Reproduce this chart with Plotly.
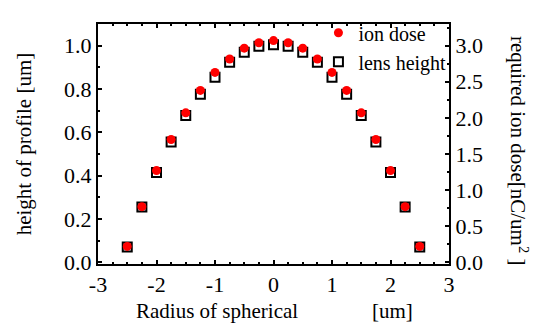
import plotly.graph_objects as go

radius = [-2.5, -2.25, -2.0, -1.75, -1.5, -1.25, -1.0, -0.75, -0.5, -0.25, 0.0,
          0.25, 0.5, 0.75, 1.0, 1.25, 1.5, 1.75, 2.0, 2.25, 2.5]
lens_height = [0.07, 0.255, 0.415, 0.555, 0.677, 0.776, 0.854, 0.923, 0.970, 0.997, 1.004,
               0.997, 0.970, 0.923, 0.854, 0.776, 0.677, 0.555, 0.415, 0.255, 0.07]
ion_dose = [0.22, 0.77, 1.27, 1.70, 2.07, 2.38, 2.63, 2.815, 2.965, 3.04, 3.07,
            3.04, 2.965, 2.815, 2.63, 2.38, 2.07, 1.70, 1.27, 0.77, 0.22]

x_ticks = [-3, -2, -1, 0, 1, 2, 3]
x_ticktext = ["-3", "-2", "-1", "0", "1", "2", "3"]
y_ticks = [0, 0.2, 0.4, 0.6, 0.8, 1.0]
y_ticktext = ["0.0", "0.2", "0.4", "0.6", "0.8", "1.0"]
y2_ticks = [0, 0.5, 1.0, 1.5, 2.0, 2.5, 3.0]
y2_ticktext = ["0.0", "0.5", "1.0", "1.5", "2.0", "2.5", "3.0"]

FONT = "Liberation Serif"
TICK_SIZE = 22
TITLE_SIZE = 21

fig = go.Figure()
fig.add_trace(go.Scatter(
    x=radius, y=lens_height, mode="markers", name="lens height",
    marker=dict(symbol="square", size=9, color="white", line=dict(color="black", width=2)),
    yaxis="y", legendrank=2))
fig.add_trace(go.Scatter(
    x=radius, y=ion_dose, mode="markers", name="ion dose",
    marker=dict(symbol="circle", size=9, color="#ff0000", line=dict(width=0)),
    yaxis="y2", legendrank=1))

line_style = dict(showline=True, linecolor="black", linewidth=2, ticks="inside",
                  tickcolor="black", tickwidth=1.5, ticklen=4, showgrid=False,
                  zeroline=False)

fig.update_layout(
    width=538, height=326,
    margin=dict(l=90, r=97, t=5, b=70),
    paper_bgcolor="white", plot_bgcolor="white",
    font=dict(family=FONT, color="black", size=18),
    xaxis=dict(range=[-3, 3], tickvals=x_ticks, ticktext=x_ticktext, mirror="ticks",
               minor=dict(dtick=0.25, ticks="inside", ticklen=2, tickcolor="black"),
               **line_style),
    yaxis=dict(range=[-0.008, 1.1], tickvals=y_ticks, ticktext=y_ticktext,
               minor=dict(dtick=0.1, ticks="inside", ticklen=2, tickcolor="black"),
               **line_style),
    yaxis2=dict(range=[-0.024, 3.3], overlaying="y", side="right",
                tickvals=y2_ticks, ticktext=y2_ticktext,
                minor=dict(dtick=0.25, ticks="inside", ticklen=2, tickcolor="black"),
                **line_style),
    legend=dict(x=0.628, y=1.045, xanchor="left", yanchor="top",
                bgcolor="rgba(0,0,0,0)", font=dict(family=FONT, size=20, color="black"),
                itemwidth=30, tracegroupgap=0),
    showlegend=True,
)
fig.update_xaxes(tickfont_family=FONT, tickfont_size=TICK_SIZE, tickfont_color="black")
fig.update_yaxes(tickfont_family=FONT, tickfont_size=TICK_SIZE, tickfont_color="black")
fig.layout.yaxis2.tickfont = dict(family=FONT, size=TICK_SIZE, color="black")

annots = [
    dict(text="height of profile [um]", x=-0.21, y=0.50, textangle=-90),
    dict(text="required ion dose[nC/um<sup>2</sup> ]", x=1.2, y=0.47, textangle=90),
    dict(text="Radius of spherical", x=(216.5 - 98) / 351, y=-0.197, textangle=0),
    dict(text="[um]", x=(392 - 98) / 351, y=-0.197, textangle=0),
]
for a in annots:
    fig.add_annotation(text=a["text"], x=a["x"], y=a["y"], xref="paper", yref="paper",
                       textangle=a["textangle"], showarrow=False, xanchor="center",
                       yanchor="middle", font=dict(family=FONT, size=TITLE_SIZE, color="black"))

fig.write_html("out.html")
